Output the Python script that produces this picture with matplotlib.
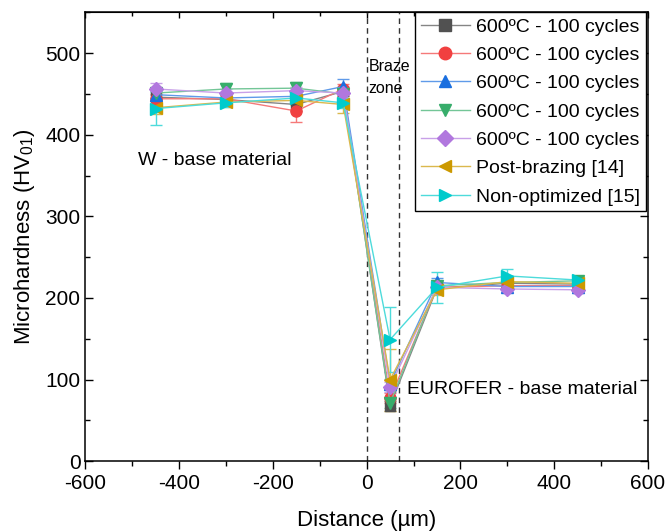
import numpy as np
import matplotlib
matplotlib.use("Agg")
import matplotlib.pyplot as plt
from matplotlib.colors import to_rgb
from matplotlib.lines import Line2D
from matplotlib.ticker import MultipleLocator

plt.rcParams["font.family"] = ["Liberation Sans", "DejaVu Sans"]
plt.rcParams["mathtext.fontset"] = "custom"
plt.rcParams["mathtext.rm"] = "Liberation Sans"
plt.rcParams["axes.unicode_minus"] = False

# distance from the interface (um) and hardness profiles
distance = [-450, -300, -150, -50, 50, 150, 300, 450]

hv_a = [446, 443, 437, 453, 68, 212, 218, 217]
hv_b = [444, 444, 429, 456, 77, 213, 215, 215]
hv_c = [449, 445, 447, 459, 95, 219, 214, 214]
hv_d = [451, 456, 457, 450, 71, 215, 219, 221]
hv_e = [456, 451, 454, 451, 91, 213, 211, 210]
hv_post = [433, 440, 442, 437, 100, 210, 220, 218]
hv_nonopt = [432, 439, 445, 439, 149, 213, 227, 222]

err_a = [8, 6, 8, 6, 6, 6, 5, 5]
err_b = [6, 5, 13, 6, 6, 5, 4, 4]
err_c = [8, 6, 5, 9, 6, 5, 4, 4]
err_d = [6, 7, 7, 6, 6, 5, 4, 4]
err_e = [7, 5, 5, 6, 6, 5, 4, 4]
err_post = [8, 6, 6, 10, 38, 6, 5, 4]
err_nonopt = [20, 5, 6, 6, 40, 19, 9, 5]

labels = ["600ºC - 100 cycles"] * 5 + ["Post-brazing [14]", "Non-optimized [15]"]
series = [hv_a, hv_b, hv_c, hv_d, hv_e, hv_post, hv_nonopt]
errors = [err_a, err_b, err_c, err_d, err_e, err_post, err_nonopt]
colors = ["#515151", "#F14040", "#1A6FDF", "#37AD6B", "#B177DE", "#CC9900", "#00CBCC"]
markers = ["s", "o", "^", "v", "D", "<", ">"]
sizes = [7, 8, 8, 8, 7, 8, 8]


def lighten(c, f=0.3):
    r = np.array(to_rgb(c))
    return tuple(r + (1 - r) * f)


fig = plt.figure(figsize=(6.66, 5.32), dpi=100)
ax = fig.add_axes([0.128, 0.133, 0.845, 0.844])

handles = []
for y, e, c, m, s, lab in zip(series, errors, colors, markers, sizes, labels):
    ax.errorbar(distance, y, yerr=e, color=lighten(c), marker=m, ms=s,
                mfc=c, mec=c, lw=1, elinewidth=1, capsize=4, capthick=1)
    # legend entries without the error bar glyph
    handles.append(Line2D([], [], color=lighten(c), marker=m, ms=s + 1,
                          mfc=c, mec=c, lw=1, label=lab))

ax.vlines([0, 70], 0, 550, colors="#333333", linestyles=(0, (4, 3)), lw=1, zorder=1)

ax.text(-488, 368, "W - base material", fontsize=14, va="center", ha="left")
ax.text(87, 88, "EUROFER - base material", fontsize=14, va="center", ha="left")
ax.text(4, 484, "Braze", fontsize=11.5, va="center", ha="left")
ax.text(4, 456, "zone", fontsize=11.5, va="center", ha="left")

ax.set_xlim(-600, 600)
ax.set_ylim(0, 550)
ax.xaxis.set_major_locator(MultipleLocator(200))
ax.xaxis.set_minor_locator(MultipleLocator(100))
ax.yaxis.set_major_locator(MultipleLocator(100))
ax.yaxis.set_minor_locator(MultipleLocator(50))
ax.tick_params(axis="x", which="both", direction="out", labelsize=15, top=False)
ax.tick_params(axis="y", which="both", direction="in", labelsize=15, right=True)
ax.tick_params(which="major", length=6, width=1)
ax.tick_params(which="minor", length=3.5, width=1)
for sp in ax.spines.values():
    sp.set_linewidth(1.1)

# inward ticks along the top edge
top = ax.secondary_xaxis("top")
top.xaxis.set_major_locator(MultipleLocator(200))
top.xaxis.set_minor_locator(MultipleLocator(100))
top.tick_params(which="both", direction="in", labeltop=False)
top.tick_params(which="major", length=4, width=1)
top.tick_params(which="minor", length=3, width=1)

ax.set_xlabel("Distance (µm)", fontsize=16, labelpad=12)
ax.set_ylabel(r"Microhardness (HV$_{\mathrm{01}}$)", fontsize=16, labelpad=6)

leg = ax.legend(handles=handles, loc="upper right", bbox_to_anchor=(0.997, 1.0),
                borderaxespad=0, fontsize=14, fancybox=False, edgecolor="black",
                framealpha=1, handlelength=2.5, labelspacing=0.55, borderpad=0.3,
                handletextpad=0.35)
leg.get_frame().set_linewidth(1)

fig.savefig("out.png", dpi=100)
